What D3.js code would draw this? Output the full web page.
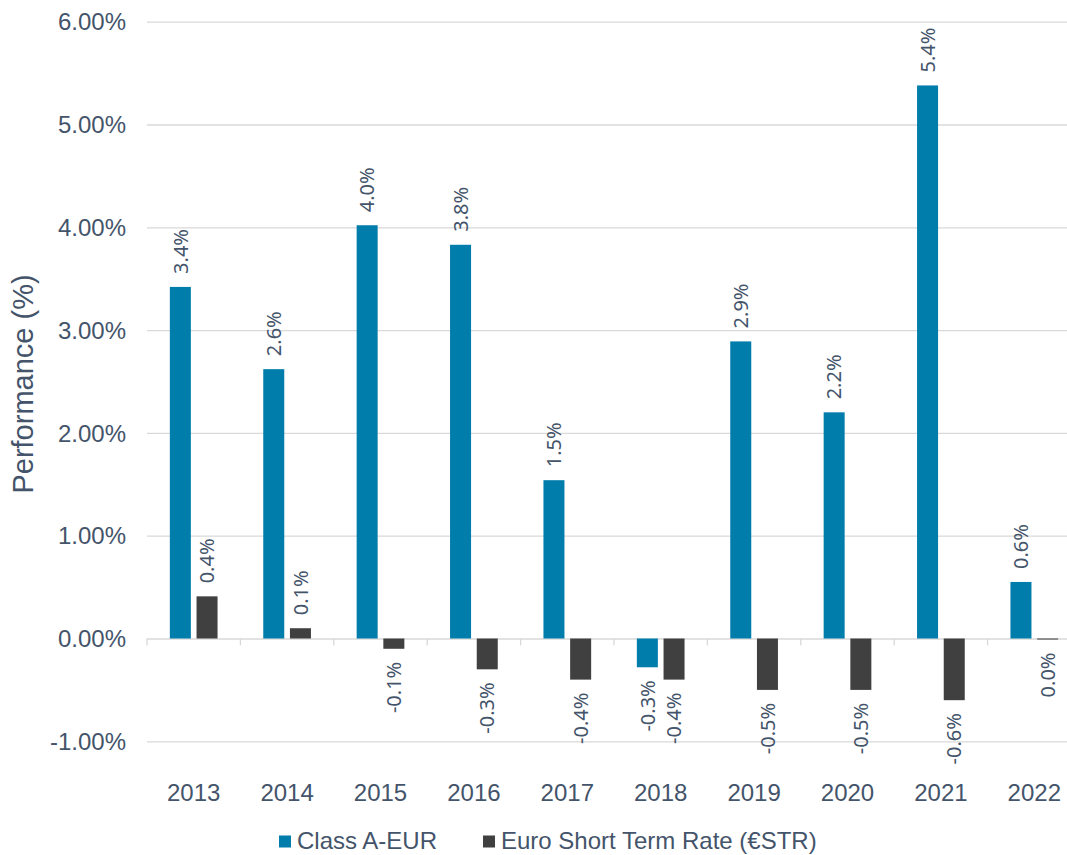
<!DOCTYPE html>
<html lang="en">
<head>
    <meta charset="UTF-8">
    <title>Performance (%)</title>
    <script src="https://cdn.jsdelivr.net/npm/d3@7"></script>
    <style>
        body { margin: 0; background: #fff; }
        svg { display: block; font-family: "Liberation Sans", Arial, sans-serif; }
        .grid line { stroke: #d9d9d9; stroke-width: 1.3; }
        .grid text { fill: #44546a; font-size: 24px; }
    </style>
</head>
<body>
    <div id="chart"></div>
    <script>
        // ---- data ----
        const years = ["2013", "2014", "2015", "2016", "2017", "2018", "2019", "2020", "2021", "2022"];
        const seriesNames = ["Class A-EUR", "Euro Short Term Rate (€STR)"];
        const classA = [3.42, 2.62, 4.02, 3.83, 1.54, -0.28, 2.89, 2.20, 5.38, 0.55];
        const estr = [0.41, 0.10, -0.10, -0.30, -0.40, -0.40, -0.50, -0.50, -0.60, -0.01];
        const yTicks = [-1, 0, 1, 2, 3, 4, 5, 6];
        const colors = ["#007daa", "#404040"];

        const width = 1067, height = 855;
        const left = 147, right = 1081;
        const textColor = "#44546a";

        const svg = d3.select("#chart").append("svg")
            .attr("width", width)
            .attr("height", height);

        // ---- scales ----
        const x0 = d3.scaleBand().domain(years).range([left, right]);
        const x1 = d3.scaleBand().domain(seriesNames)
            .range([0, x0.bandwidth()])
            .paddingInner(0.213).paddingOuter(0.856);
        const y = d3.scaleLinear().domain([-1, 6]).range([741.3, 21.7]);

        // gridlines + y labels
        const fmtTick = v => v.toFixed(2) + "%";
        svg.append("g")
            .attr("class", "grid")
            .attr("transform", `translate(${left},0)`)
            .call(d3.axisLeft(y).tickValues(yTicks).tickSize(-(right - left)).tickPadding(21).tickFormat(fmtTick))
            .call(g => g.select(".domain").remove())
            .call(g => g.selectAll("text").attr("dy", "0.34em"));

        // category ticks on the zero line
        svg.append("g").selectAll("line")
            .data(years.concat(["end"]))
            .join("line")
            .attr("x1", (d, i) => left + i * x0.step())
            .attr("x2", (d, i) => left + i * x0.step())
            .attr("y1", y(0))
            .attr("y2", y(0) + 7)
            .attr("stroke", "#d9d9d9")
            .attr("stroke-width", 1.3);

        // ---- bars ----
        const rows = years.map((yr, i) => ({ year: yr, values: [classA[i], estr[i]] }));

        const groups = svg.append("g").selectAll("g")
            .data(rows)
            .join("g")
            .attr("transform", d => `translate(${x0(d.year)},0)`);

        groups.selectAll("rect")
            .data(d => d.values.map((v, k) => ({ key: seriesNames[k], v, k })))
            .join("rect")
            .attr("x", d => x1(d.key))
            .attr("width", x1.bandwidth())
            .attr("y", d => y(Math.max(0, d.v)))
            .attr("height", d => Math.abs(y(d.v) - y(0)))
            .attr("fill", d => colors[d.k]);

        // rotated value labels
        const fmtLabel = v => {
            let r = Math.round(v * 10) / 10;
            if (r === 0) r = 0;
            return r.toFixed(1) + "%";
        };
        groups.selectAll("text")
            .data(d => d.values.map((v, k) => ({ key: seriesNames[k], v, k })))
            .join("text")
            .attr("transform", d => {
                const cx = x1(d.key) + x1.bandwidth() / 2;
                const cy = d.v >= 0 ? y(d.v) - 13 : y(d.v) + 13;
                return `translate(${cx},${cy}) rotate(-90)`;
            })
            .attr("text-anchor", d => d.v >= 0 ? "start" : "end")
            .attr("dy", "0.36em")
            .attr("font-family", "'Noto Sans', 'Open Sans', sans-serif")
            .attr("font-size", 20)
            .attr("fill", textColor)
            .text(d => fmtLabel(d.v));

        // x labels
        svg.append("g").selectAll("text")
            .data(years)
            .join("text")
            .attr("x", d => x0(d) + x0.bandwidth() / 2)
            .attr("y", 801)
            .attr("text-anchor", "middle")
            .attr("font-size", 24)
            .attr("fill", textColor)
            .text(d => d);

        // y title
        svg.append("text")
            .attr("transform", "translate(33,384) rotate(-90)")
            .attr("text-anchor", "middle")
            .attr("font-size", 29)
            .attr("fill", textColor)
            .text("Performance (%)");

        // ---- legend ----
        const legendX = [279, 483];
        const legend = svg.append("g").selectAll("g")
            .data(seriesNames)
            .join("g")
            .attr("transform", (d, i) => `translate(${legendX[i]},835.5)`);
        legend.append("rect")
            .attr("width", 12).attr("height", 12)
            .attr("fill", (d, i) => colors[i]);
        legend.append("text")
            .attr("x", 18)
            .attr("y", 13.5)
            .attr("font-size", 24)
            .attr("fill", textColor)
            .text(d => d);
    </script>
</body>
</html>
